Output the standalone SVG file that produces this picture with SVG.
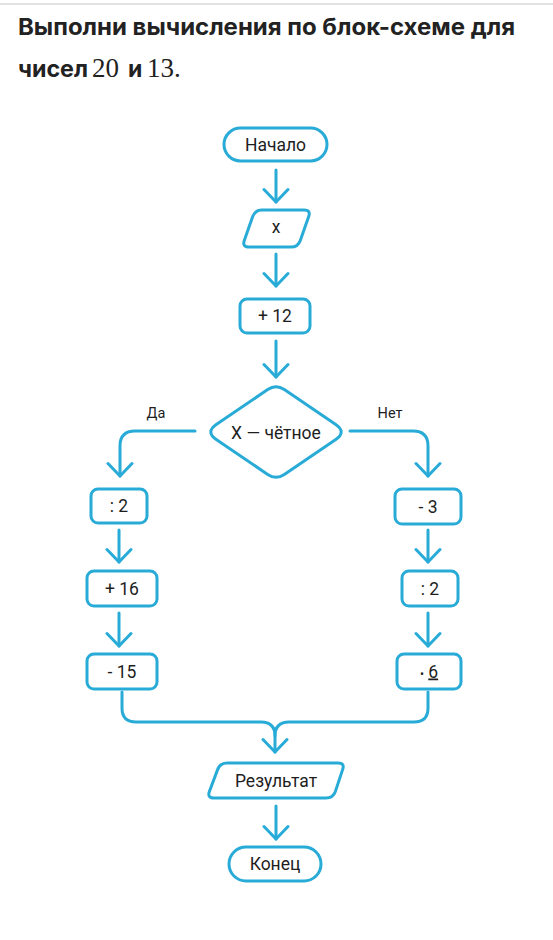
<svg xmlns="http://www.w3.org/2000/svg" width="553" height="940" viewBox="0 0 553 940">
<style>
.s{fill:#fff;stroke:#29abd8;stroke-width:3;stroke-linejoin:round}
.c{fill:none;stroke:#29abd8;stroke-width:3;stroke-linecap:round;stroke-linejoin:round}
.t{font-family:Roboto,"Liberation Sans",sans-serif;font-size:17.5px;fill:#1e1e1e;text-anchor:middle}
.l{font-family:Roboto,"Liberation Sans",sans-serif;font-size:14.5px;fill:#1e1e1e;text-anchor:middle}
.h{font-family:Inter,"Liberation Sans",sans-serif;font-weight:bold;font-size:23px;fill:#222}
.m{font-family:"Liberation Serif","DejaVu Serif",serif;font-size:27px;fill:#222}
</style>
<defs>
<marker id="a" viewBox="-15 -14 18 28" markerWidth="18" markerHeight="28" refX="0" refY="0" orient="auto" markerUnits="userSpaceOnUse">
<path d="M-12.5,-12 L0,0 L-12.5,12" fill="none" stroke="#29abd8" stroke-width="3" stroke-linecap="round" stroke-linejoin="round"/>
</marker>
</defs>
<rect x="0" y="3" width="553" height="2" fill="#e2e2e2"/>
<g id="title">
<text class="h" x="18" y="35" textLength="497" lengthAdjust="spacingAndGlyphs">Выполни вычисления по блок-схеме для</text>
<text class="h" x="18" y="77" textLength="70" lengthAdjust="spacingAndGlyphs">чисел</text>
<text class="m" x="92" y="77">20</text>
<text class="h" x="128" y="77">и</text>
<text class="m" x="147" y="77">13.</text>
</g>
<g id="connectors">
<path class="c" d="M276,170 V202" marker-end="url(#a)"/>
<path class="c" d="M276,254 V286" marker-end="url(#a)"/>
<path class="c" d="M276,341 V377" marker-end="url(#a)"/>
<path class="c" d="M195,431 H135 Q120,431 120,446 V476" marker-end="url(#a)"/>
<path class="c" d="M350,431 H413 Q428,431 428,446 V476" marker-end="url(#a)"/>
<path class="c" d="M119,530 V562" marker-end="url(#a)"/>
<path class="c" d="M119,613 V646" marker-end="url(#a)"/>
<path class="c" d="M428,530 V562" marker-end="url(#a)"/>
<path class="c" d="M428,613 V646" marker-end="url(#a)"/>
<path class="c" d="M122,692 V708 Q122,722 136,722 H261 Q275,722 275,736"/>
<path class="c" d="M428,692 V708 Q428,722 414,722 H289 Q275,722 275,736 V752" marker-end="url(#a)"/>
<path class="c" d="M276,806 V839" marker-end="url(#a)"/>
<text class="l" x="156" y="418">Да</text>
<text class="l" x="390" y="418">Нет</text>
</g>
<g id="start">
<rect class="s" x="224" y="128" width="103" height="33" rx="16.5"/>
<text class="t" x="275.5" y="150.5">Начало</text>
</g>
<g id="input">
<path class="s" d="M262,210 L304,210 Q311,210 308.7,216.6 L300.3,240.4 Q298,247 291,247 L249,247 Q242,247 244.3,240.4 L252.7,216.6 Q255,210 262,210 Z"/>
<text class="t" x="276" y="233">x</text>
</g>
<g id="add12">
<rect class="s" x="240" y="299" width="70" height="34" rx="7"/>
<text class="t" x="275" y="322">+ 12</text>
</g>
<g id="decision">
<path class="s" d="M267.7,389.6 Q276,384 284.3,389.6 L335.4,424.2 Q347,432 335.4,439.8 L284.3,474.4 Q276,480 267.7,474.4 L216.6,439.8 Q205,432 216.6,424.2 Z"/>
<text class="t" x="276" y="438.5">X — чётное</text>
</g>
<g id="div2left">
<rect class="s" x="91" y="489" width="56" height="34" rx="7"/>
<text class="t" x="119" y="512">: 2</text>
</g>
<g id="add16">
<rect class="s" x="87" y="571" width="70" height="35" rx="7"/>
<text class="t" x="122" y="594.5">+ 16</text>
</g>
<g id="sub15">
<rect class="s" x="87" y="654" width="70" height="35" rx="7"/>
<text class="t" x="122" y="677.5">- 15</text>
</g>
<g id="sub3">
<rect class="s" x="395" y="489" width="66" height="35" rx="7"/>
<text class="t" x="428" y="512.5">- 3</text>
</g>
<g id="div2right">
<rect class="s" x="402" y="571" width="56" height="35" rx="7"/>
<text class="t" x="430" y="594.5">: 2</text>
</g>
<g id="mul6">
<rect class="s" x="397" y="654" width="64" height="35" rx="7"/>
<text class="t" x="429" y="677.5"><tspan font-size="12">•</tspan> <tspan text-decoration="underline">6</tspan></text>
</g>
<g id="result">
<path class="s" d="M227,763 L338,763 Q345,763 342.6,769.6 L335.4,791.4 Q333,798 326,798 L214,798 Q207,798 209.4,791.4 L217.6,769.6 Q220,763 227,763 Z"/>
<text class="t" x="276" y="786.5">Результат</text>
</g>
<g id="end">
<rect class="s" x="229" y="847" width="92" height="34" rx="17"/>
<text class="t" x="275" y="870">Конец</text>
</g>
</svg>
